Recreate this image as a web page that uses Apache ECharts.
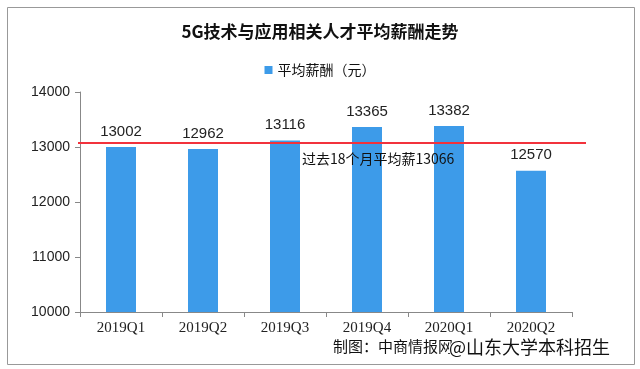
<!DOCTYPE html>
<html><head><meta charset="utf-8">
<script src="https://cdn.jsdelivr.net/npm/echarts@6/dist/echarts.min.js"></script>
<style>html,body{margin:0;padding:0;background:#fff}#c{width:640px;height:369px}</style>
</head><body><div id="c"></div>
<script>
var categories = ['2019Q1','2019Q2','2019Q3','2019Q4','2020Q1','2020Q2'];
var salary = [13002, 12962, 13116, 13365, 13382, 12570];
var avgSalary = 13066;
var yTicks = [10000, 11000, 12000, 13000, 14000];

var chart = echarts.init(document.getElementById('c'));
chart.setOption({
  animation: false,
  backgroundColor: '#fff',
  title: {
    text: '5G技术与应用相关人才平均薪酬走势',
    left: 'center', top: 18,
    textStyle: {fontFamily: 'Noto Sans CJK SC', fontWeight: 'bold', fontSize: 17, color: '#111'}
  },
  legend: {
    top: 58, left: 'center',
    itemWidth: 8, itemHeight: 8, itemGap: 4,
    icon: 'rect',
    textStyle: {fontFamily: 'Noto Sans CJK SC', fontSize: 14, color: '#111'},
    data: ['平均薪酬（元）']
  },
  grid: {left: 80, right: 68, top: 92, bottom: 57},
  xAxis: {
    type: 'category', data: categories,
    axisLine: {lineStyle: {color: '#888'}},
    axisTick: {show: true, length: 5, lineStyle: {color: '#888'}},
    axisLabel: {fontFamily: 'Liberation Serif', fontSize: 15, color: '#222', margin: 9}
  },
  yAxis: {
    type: 'value', min: yTicks[0], max: yTicks[yTicks.length-1], interval: 1000,
    splitLine: {show: false},
    axisLine: {show: true, lineStyle: {color: '#888'}},
    axisTick: {show: true, length: 5, lineStyle: {color: '#888'}},
    axisLabel: {fontFamily: 'Liberation Sans', fontSize: 14, color: '#222', margin: 10,
      formatter: function (v) { return String(v); }}
  },
  series: [{
    name: '平均薪酬（元）', type: 'bar', data: salary, barWidth: 30,
    itemStyle: {color: '#3d9be9'},
    label: {show: true, position: 'top', distance: 8, fontFamily: 'Liberation Sans', fontSize: 15, color: '#222'}
  }]
});
var yAvg = chart.convertToPixel({yAxisIndex: 0}, avgSalary);
chart.setOption({
  graphic: [
    {type: 'rect', left: 5, top: 5, shape: {width: 627, height: 357}, style: {fill: 'none', stroke: '#999', lineWidth: 1}, z: 0},
    {type: 'line', z: 50, shape: {x1: 78, y1: Math.round(yAvg), x2: 586, y2: Math.round(yAvg)},
      style: {stroke: '#f2323c', lineWidth: 2}},
    {type: 'text', left: 302, top: 152, z: 100, style: {text: '过去18个月平均薪' + avgSalary, font: '14px "Noto Sans CJK SC"', fill: '#111'}},
    {type: 'text', left: 333, top: 339, z: 100, style: {text: '制图：中商情报网', font: '15px "Noto Sans CJK SC"', fill: '#111'}},
    {type: 'text', left: 448, top: 337, z: 101, style: {text: '@山东大学本科招生', font: '18px "Noto Sans CJK SC"', fill: '#111', stroke: '#fff', lineWidth: 2}}
  ]
});
</script></body></html>
